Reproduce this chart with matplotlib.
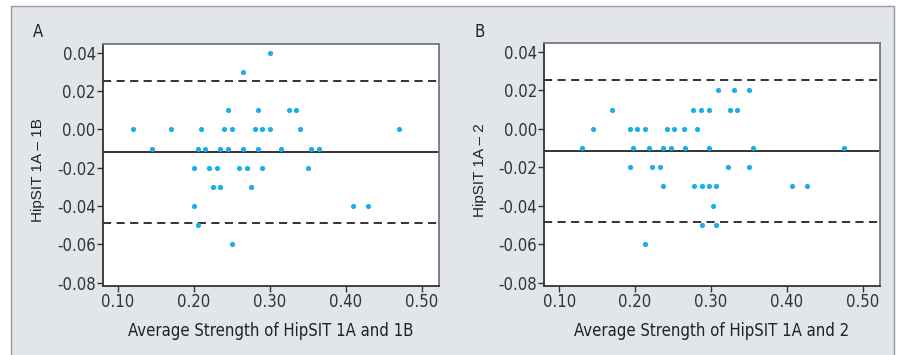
# %% Bland-Altman plots, HipSIT strength (A: 1A vs 1B, B: 1A vs 2)

import matplotlib
matplotlib.use("Agg")
from matplotlib import pyplot as plt
from matplotlib.patches import Rectangle

# panel A: average strength (x) and difference (y)
a_x = [0.300,
       0.265,
       0.245, 0.285, 0.325, 0.335,
       0.12, 0.17, 0.21, 0.24, 0.25, 0.28, 0.29, 0.30, 0.34, 0.47,
       0.145, 0.205, 0.215, 0.235, 0.245, 0.265, 0.285, 0.315, 0.355, 0.365,
       0.20, 0.22, 0.23, 0.26, 0.27, 0.29, 0.35,
       0.225, 0.235, 0.275,
       0.20, 0.41, 0.43,
       0.205,
       0.25]
a_y = [0.04,
       0.03,
       0.01, 0.01, 0.01, 0.01,
       0.00, 0.00, 0.00, 0.00, 0.00, 0.00, 0.00, 0.00, 0.00, 0.00,
       -0.01, -0.01, -0.01, -0.01, -0.01, -0.01, -0.01, -0.01, -0.01, -0.01,
       -0.02, -0.02, -0.02, -0.02, -0.02, -0.02, -0.02,
       -0.03, -0.03, -0.03,
       -0.04, -0.04, -0.04,
       -0.05,
       -0.06]

# panel B
b_x = [0.31, 0.33, 0.35,
       0.17, 0.277, 0.287, 0.297, 0.325, 0.335,
       0.144, 0.193, 0.203, 0.213, 0.242, 0.252, 0.264, 0.282,
       0.13, 0.198, 0.218, 0.237, 0.248, 0.266, 0.298, 0.355, 0.476,
       0.193, 0.223, 0.233, 0.322, 0.350,
       0.237, 0.278, 0.288, 0.298, 0.307, 0.407, 0.427,
       0.303,
       0.288, 0.307,
       0.213]
b_y = [0.02, 0.02, 0.02,
       0.01, 0.01, 0.01, 0.01, 0.01, 0.01,
       0.00, 0.00, 0.00, 0.00, 0.00, 0.00, 0.00, 0.00,
       -0.01, -0.01, -0.01, -0.01, -0.01, -0.01, -0.01, -0.01, -0.01,
       -0.02, -0.02, -0.02, -0.02, -0.02,
       -0.03, -0.03, -0.03, -0.03, -0.03, -0.03, -0.03,
       -0.04,
       -0.05, -0.05,
       -0.06]

# mean difference and limits of agreement
mean_diff = -0.0116
upper_loa = 0.0253
lower_loa = -0.0486

x_ticks = [0.10, 0.20, 0.30, 0.40, 0.50]
y_ticks = [0.04, 0.02, 0.00, -0.02, -0.04, -0.06, -0.08]

panels = [
    ("A", a_x, a_y, "HipSIT 1A \u2013 1B", "Average Strength of HipSIT 1A and 1B"),
    ("B", b_x, b_y, "HipSIT 1A \u2013 2", "Average Strength of HipSIT 1A and 2"),
]

narrow = dict(family="DejaVu Sans", stretch="condensed")
bg = "#e2e5e9"
dot = "#17aeea"

fig = plt.figure(figsize=(8.99, 3.55), dpi=100, facecolor="white")
fig.patches.append(Rectangle((11 / 899, -0.01), 883 / 899, 1 - 6 / 355 + 0.01,
                             transform=fig.transFigure, facecolor=bg,
                             edgecolor="#9a9a9a", linewidth=1.0, zorder=-10))

axes_pos = [[0.1142, 0.1944, 0.3741, 0.6808],
            [0.6051, 0.1944, 0.3738, 0.6836]]
letter_x = [33 / 899, 475 / 899]
ylabel_x = [38 / 899, 480 / 899]

for i, (letter, xs, ys, ylab, xlab) in enumerate(panels):
    ax = fig.add_axes(axes_pos[i])
    ax.set_facecolor("white")
    ax.scatter(xs, ys, s=14, color=dot, linewidths=0, zorder=3)
    ax.axhline(mean_diff, color="#222222", linewidth=1.3, zorder=2)
    ax.axhline(upper_loa, color="#222222", linewidth=1.3, linestyle=(0, (4.5, 3)), zorder=2)
    ax.axhline(lower_loa, color="#222222", linewidth=1.3, linestyle=(0, (4.5, 3)), zorder=2)

    ax.set_xlim(0.080, 0.523)
    ax.set_ylim(-0.0817, 0.0444)
    ax.set_xticks(x_ticks)
    ax.set_xticklabels([f"{v:.2f}" for v in x_ticks], fontsize=12, color="#333333", **narrow)
    ax.set_yticks(y_ticks)
    ax.set_yticklabels([f"{v:.2f}" for v in y_ticks],
                       fontsize=12, color="#333333", **narrow)
    ax.tick_params(direction="out", length=4, width=1, color="#333333", pad=1)
    for side in ["left", "bottom"]:
        ax.spines[side].set_color("#333333")
        ax.spines[side].set_linewidth(1.3)
    for side in ["top", "right"]:
        ax.spines[side].set_color("#777777")
        ax.spines[side].set_linewidth(1.3)

    ax.set_xlabel(xlab, fontsize=12, color="#222222", labelpad=8, **narrow)
    fig.text(ylabel_x[i], 0.52, ylab, rotation=90, ha="center", va="center",
             family=["Liberation Sans", "DejaVu Sans"], fontsize=11, color="#222222")
    fig.text(letter_x[i], 1 - 32 / 355, letter, ha="left", va="center",
             fontsize=12, color="#222222", **narrow)

fig.savefig("out.png", dpi=100, facecolor="white")
